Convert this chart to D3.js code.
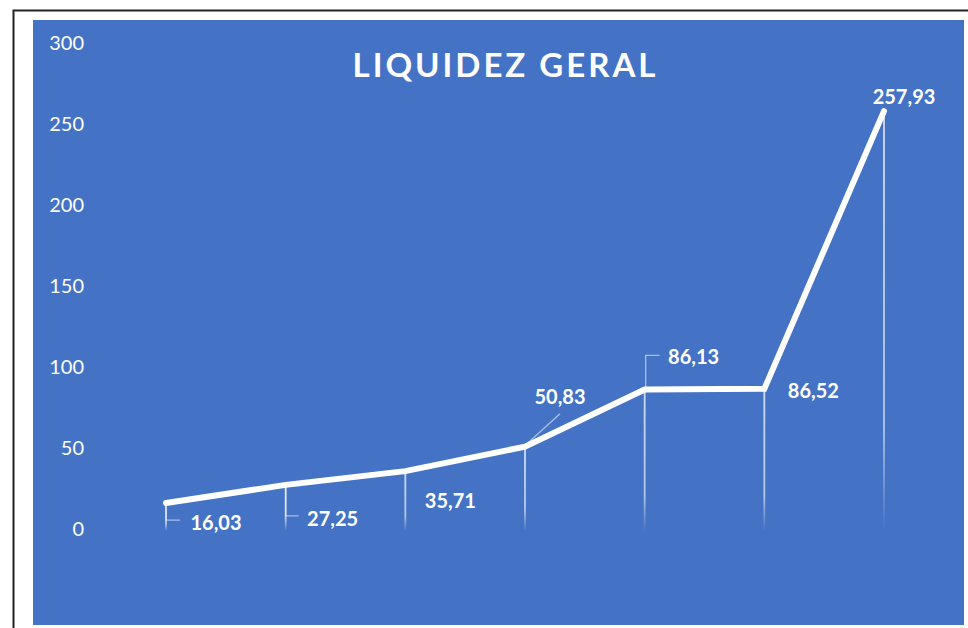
<!DOCTYPE html>
<html>
<head>
<meta charset="utf-8">
<script src="https://cdn.jsdelivr.net/npm/d3@7/dist/d3.min.js"></script>
<style>
  html, body { margin: 0; padding: 0; background: #ffffff; }
  svg { display: block; }
</style>
</head>
<body>
<svg id="chart" width="968" height="628"></svg>
<script>
// ---- data ----
const categories = ["P1", "P2", "P3", "P4", "P5", "P6", "P7"];
const values = [16.03, 27.25, 35.71, 50.83, 86.13, 86.52, 257.93];
const valueLabels = ["16,03", "27,25", "35,71", "50,83", "86,13", "86,52", "257,93"];
const yTicks = [0, 50, 100, 150, 200, 250, 300];
const title = "LIQUIDEZ GERAL";

// ---- layout / style ----
const W = 968, H = 628;
const blue = "#4472C4";
const svg = d3.select("#chart");

// outer frame
svg.append("rect").attr("x", 13.5).attr("y", 10.5).attr("width", 970).attr("height", 640)
  .attr("fill", "#ffffff").attr("stroke", "#222").attr("stroke-width", 2);
// blue plot background
svg.append("rect").attr("x", 33).attr("y", 20).attr("width", 931).attr("height", 605)
  .attr("fill", blue);

const x = d3.scalePoint().domain(categories).range([166, 884]);
const y = d3.scaleLinear().domain([0, 300]).range([529, 43]);

// gradient for drop lines
const defs = svg.append("defs");
const grad = defs.append("linearGradient").attr("id", "dropGrad")
  .attr("x1", 0).attr("y1", 0).attr("x2", 0).attr("y2", 1);
grad.append("stop").attr("offset", "0%").attr("stop-color", "#fff").attr("stop-opacity", 0.75);
grad.append("stop").attr("offset", "75%").attr("stop-color", "#fff").attr("stop-opacity", 0.6);
grad.append("stop").attr("offset", "100%").attr("stop-color", "#fff").attr("stop-opacity", 0);

// y axis labels
const yAxis = d3.axisLeft(y).tickValues(yTicks).tickSize(0).tickPadding(0)
  .tickFormat(d3.format("d"));
const gy = svg.append("g").attr("transform", "translate(84,0)").call(yAxis);
gy.select(".domain").remove();
gy.selectAll("text").attr("fill", "#fff")
  .style("font-family", "Lato, 'Open Sans', sans-serif")
  .style("font-size", "20px");

const data = categories.map((c, i) => ({ c, v: values[i], label: valueLabels[i] }));

// drop lines
svg.append("g").selectAll("rect").data(data).join("rect")
  .attr("x", d => x(d.c) - 0.9)
  .attr("width", 1.8)
  .attr("y", d => y(d.v))
  .attr("height", d => 531 - y(d.v))
  .attr("fill", "url(#dropGrad)");

// line
const line = d3.line().x(d => x(d.c)).y(d => y(d.v));
svg.append("path").datum(data)
  .attr("d", line)
  .attr("fill", "none")
  .attr("stroke", "#fff")
  .attr("stroke-width", 6)
  .attr("stroke-linecap", "round")
  .attr("stroke-linejoin", "miter");

// label placement (offsets from point, pixels)
const labelOffsets = [[50, 19], [47, 33], [45, 29], [35, -51], [49, -33], [49, 1], [20, -15]];
// leader lines: list of relative polyline points from data point
const leaders = [
  [[0, 2], [0, 17], [14, 17]],
  [[0, 2], [0, 31], [13, 31]],
  null,
  [[2, -3], [35, -33]],
  [[1, -1], [1, -34], [15, -34]],
  null,
  null
];

const gl = svg.append("g");
data.forEach((d, i) => {
  const px = x(d.c), py = y(d.v);
  if (leaders[i]) {
    gl.append("polyline")
      .attr("points", leaders[i].map(p => (px + p[0]) + "," + (py + p[1])).join(" "))
      .attr("fill", "none")
      .attr("stroke", "rgba(255,255,255,0.55)")
      .attr("stroke-width", 1.3);
  }
  gl.append("text")
    .attr("x", px + labelOffsets[i][0])
    .attr("y", py + labelOffsets[i][1])
    .attr("text-anchor", "middle")
    .attr("dominant-baseline", "central")
    .attr("fill", "#fff")
    .style("font-family", "Lato, 'Open Sans', sans-serif")
    .style("font-weight", "bold")
    .style("font-size", "20px")
    .text(d.label);
});

// title
const t = svg.append("text")
  .attr("x", 504)
  .attr("y", 77)
  .attr("text-anchor", "middle")
  .attr("fill", "#fff")
  .style("font-family", "Lato, 'Open Sans', sans-serif")
  .style("font-weight", "bold")
  .style("font-size", "33px")
  .text(title);
// fit letter spacing to the reference width
const baseLen = t.node().getComputedTextLength();
const target = 303;
const ls = (target - baseLen) / (title.length - 1);
t.style("letter-spacing", ls + "px").attr("x", 504 + ls / 2);
</script>
</body>
</html>
